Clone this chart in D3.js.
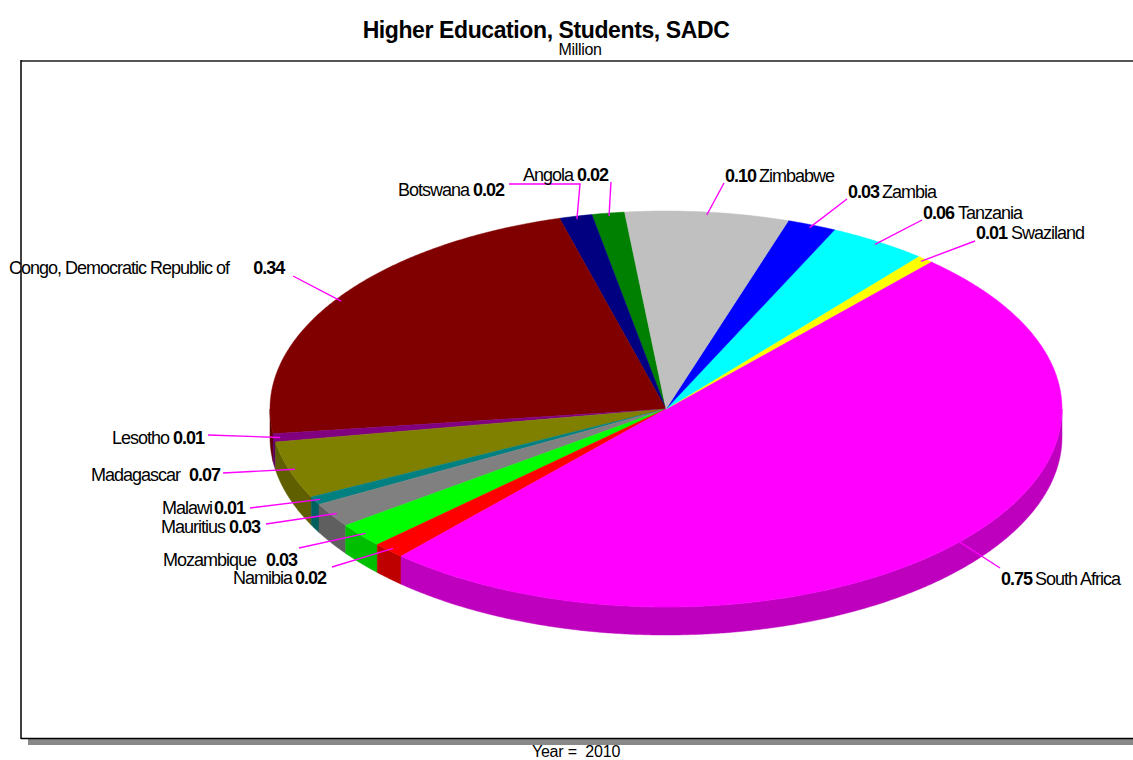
<!DOCTYPE html>
<html>
<head>
<meta charset="utf-8">
<script src="https://cdn.jsdelivr.net/npm/d3@7"></script>
<style>
  body { margin: 0; background: #fff; }
  svg text { font-family: "Liberation Sans", Arial, sans-serif; fill: #000; }
</style>
</head>
<body>
<svg id="chart" width="1133" height="760"></svg>
<script>
// Higher education students by SADC member state, 2010 (million)
const countries = ["Angola", "Botswana", "Congo, Democratic Republic of", "Lesotho", "Madagascar",
  "Malawi", "Mauritius", "Mozambique", "Namibia", "South Africa", "Swaziland", "Tanzania",
  "Zambia", "Zimbabwe"];
const students = [0.02, 0.02, 0.34, 0.01, 0.07, 0.01, 0.03, 0.03, 0.02, 0.75, 0.01, 0.06, 0.03, 0.10];
const valueLabels = ["0.02", "0.02", "0.34", "0.01", "0.07", "0.01", "0.03", "0.03", "0.02", "0.75",
  "0.01", "0.06", "0.03", "0.10"];
const sliceColors = ["#008000", "#000080", "#800000", "#800080", "#808000", "#008080", "#808080",
  "#00ff00", "#ff0000", "#ff00ff", "#ffff00", "#00ffff", "#0000ff", "#c0c0c0"];

// Label placement: text start (tx, baseline ty), leader start (lx, ly), optional elbow (ex, ey),
// "left" labels read "name value", "right" labels read "value name"
const labelLayout = [
  { side: "left",  tx: 523, ty: 181, gap: 4,  lx: 611, ly: 182 },
  { side: "left",  tx: 398, ty: 196, gap: 4,  lx: 509, ly: 184, ex: 580, ey: 184 },
  { side: "left",  tx: 9,   ty: 274, gap: 24, lx: 293, ly: 276 },
  { side: "left",  tx: 112, ty: 444, gap: 4,  lx: 208, ly: 435 },
  { side: "left",  tx: 91,  ty: 481, gap: 9,  lx: 223, ly: 473 },
  { side: "left",  tx: 162, ty: 514, gap: 2,  lx: 250, ly: 508 },
  { side: "left",  tx: 161, ty: 533, gap: 4,  lx: 266, ly: 524 },
  { side: "left",  tx: 163, ty: 566, gap: 10, lx: 299, ly: 548 },
  { side: "left",  tx: 233, ty: 584, gap: 3,  lx: 332, ly: 567 },
  { side: "right", tx: 1001, ty: 585, gap: 3, lx: 1000, ly: 568 },
  { side: "right", tx: 976, ty: 239, gap: 4,  lx: 975, ly: 241 },
  { side: "right", tx: 923, ty: 219, gap: 4,  lx: 922, ly: 220 },
  { side: "right", tx: 848, ty: 198, gap: 3,  lx: 847, ly: 199 },
  { side: "right", tx: 725, ty: 182, gap: 3,  lx: 724, ly: 183 }
];

const svg = d3.select("#chart");

// ---- frame with drop shadow ----
svg.append("rect").attr("x", 28).attr("y", 739).attr("width", 1105).attr("height", 6).attr("fill", "#888");
svg.append("line").attr("x1", 21).attr("y1", 61).attr("x2", 1133).attr("y2", 61)
  .attr("stroke", "#555").attr("stroke-width", 2);
svg.append("line").attr("x1", 21).attr("y1", 60).attr("x2", 21).attr("y2", 739)
  .attr("stroke", "#000").attr("stroke-width", 1.5);
svg.append("line").attr("x1", 21).attr("y1", 738.5).attr("x2", 1133).attr("y2", 738.5)
  .attr("stroke", "#000").attr("stroke-width", 1.5);

// ---- titles ----
svg.append("text").attr("x", 546).attr("y", 38).attr("text-anchor", "middle")
  .style("font-size", "23px").style("font-weight", "bold").style("letter-spacing", "-0.4px")
  .text("Higher Education, Students, SADC");
svg.append("text").attr("x", 580).attr("y", 55).attr("text-anchor", "middle")
  .style("font-size", "16px").style("letter-spacing", "-0.3px").text("Million");
svg.append("text").attr("x", 576).attr("y", 757).attr("text-anchor", "middle")
  .style("font-size", "16px").style("letter-spacing", "-0.2px").style("white-space", "pre")
  .text("Year =  2010");

// ---- 3D pie geometry ----
const cx = 666, cy = 409, rx = 396, ry = 198, depth = 28;
const sx = d3.scaleLinear().domain([-1, 1]).range([cx - rx, cx + rx]);
const sy = d3.scaleLinear().domain([-1, 1]).range([cy + ry, cy - ry]);
const pt = (t, dz = 0) => [sx(Math.cos(t)), sy(Math.sin(t)) + dz];
const deg = Math.PI / 180;

// slices run counter-clockwise from just left of twelve o'clock
const startTheta = 96 * deg;
const pie = d3.pie().sort(null).value(d => d)
  .startAngle(Math.PI / 2 - startTheta)
  .endAngle(Math.PI / 2 - startTheta - 2 * Math.PI);
const arcs = pie(students).map((a, i) => ({
  i,
  t0: Math.PI / 2 - a.startAngle,
  t1: Math.PI / 2 - a.endAngle
}));

const line = d3.line();
function arcPoints(a, b, dz) {
  const n = Math.max(2, Math.ceil(Math.abs(b - a) / (0.4 * deg)));
  return d3.range(n + 1).map(k => pt(a + (b - a) * k / n, dz));
}
const darker = c => d3.rgb(c).darker(0.83).formatHex();

// side walls: only the front half (theta in [pi, 2pi] modulo 2pi) is visible
const gSide = svg.append("g");
arcs.forEach(s => {
  for (let k = -1; k <= 1; k++) {
    const lo = Math.max(s.t0, Math.PI + 2 * Math.PI * k);
    const hi = Math.min(s.t1, 2 * Math.PI + 2 * Math.PI * k);
    if (hi > lo) {
      const pts = arcPoints(lo, hi, 0).concat(arcPoints(hi, lo, depth));
      gSide.append("path").attr("d", line(pts) + "Z")
        .attr("fill", darker(sliceColors[s.i])).attr("stroke", darker(sliceColors[s.i]))
        .attr("stroke-width", 0.5);
    }
  }
});

// top faces
const gTop = svg.append("g");
arcs.forEach(s => {
  const pts = [[cx, cy]].concat(arcPoints(s.t0, s.t1, 0));
  gTop.append("path").attr("d", line(pts) + "Z")
    .attr("fill", sliceColors[s.i]).attr("stroke", sliceColors[s.i]).attr("stroke-width", 0.5);
});

// ---- leader lines ----
const gLead = svg.append("g");
arcs.forEach(s => {
  const L = labelLayout[s.i];
  const mid = (s.t0 + s.t1) / 2;
  const inner = [sx(0.985 * Math.cos(mid)), sy(0.985 * Math.sin(mid))];
  const pts = [[L.lx, L.ly]];
  if (L.ex !== undefined) pts.push([L.ex, L.ey]);
  pts.push(inner);
  gLead.append("path").attr("d", line(pts)).attr("fill", "none")
    .attr("stroke", "#ff00ff").attr("stroke-width", 1.4);
});

// ---- labels ----
const gLab = svg.append("g").style("font-size", "18px").style("letter-spacing", "-1px");
countries.forEach((name, i) => {
  const L = labelLayout[i];
  const t = gLab.append("text").attr("x", L.tx).attr("y", L.ty);
  if (L.side === "left") {
    t.append("tspan").text(name);
    t.append("tspan").attr("dx", L.gap).style("font-weight", "bold").text(valueLabels[i]);
  } else {
    t.append("tspan").style("font-weight", "bold").text(valueLabels[i]);
    t.append("tspan").attr("dx", L.gap).text(name);
  }
});
</script>
</body>
</html>
